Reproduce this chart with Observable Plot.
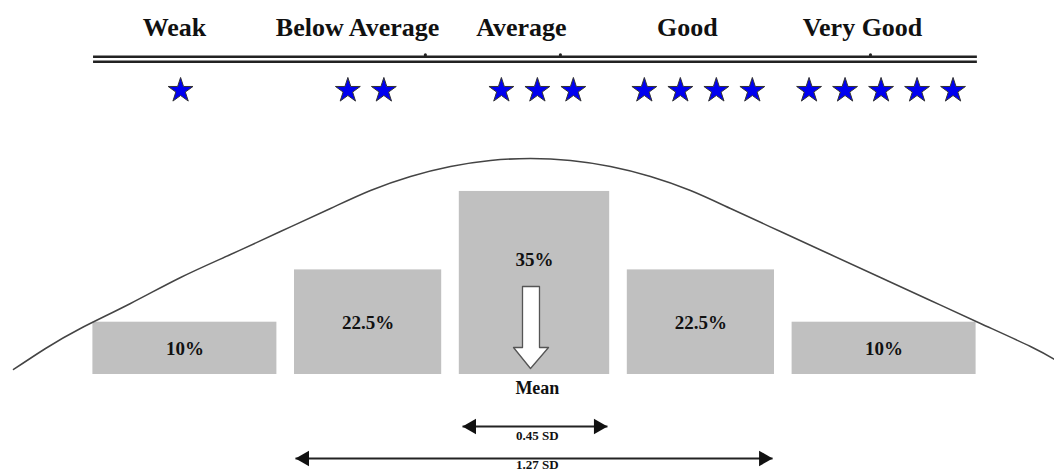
<!DOCTYPE html>
<html>
<head>
<meta charset="utf-8">
<script src="https://cdn.jsdelivr.net/npm/d3@7"></script>
<script src="https://cdn.jsdelivr.net/npm/@observablehq/plot@0.6"></script>
<style>
  html, body { margin: 0; padding: 0; background: #fff; }
  #chart svg { display: block; }
</style>
</head>
<body>
<div id="chart"></div>
<script>
// ---- Data (x in SD units from the mean, y in diagram percent units) ----
const categories   = ["Weak", "Below Average", "Average", "Good", "Very Good"];
const starCounts   = [1, 2, 3, 4, 5];
const labelX       = [-1.125, -0.553, -0.041, 0.478, 1.025];
const starGroupX   = [-1.106, -0.527, 0.009, 0.512, 1.083];

const percentages  = [10, 22.5, 35, 22.5, 10];
const barHeight    = [10, 20, 35, 20, 10];
const barX1        = [-1.38, -0.75, -0.235, 0.29, 0.805];
const barX2        = [-0.805, -0.29, 0.235, 0.75, 1.38];
const barLabelY    = [4.8, 9.8, 22, 9.8, 4.8];

const curveX = [-1.628, -1.528, -1.419, -1.2625, -1.106, -0.95, -0.794, -0.6375, -0.5125, -0.3875, -0.2625, -0.1375, -0.0125,
                0.1125, 0.2375, 0.3625, 0.4875, 0.6125, 0.76875, 0.925, 1.08125, 1.2375, 1.39375, 1.55, 1.625];
const curveY = [0.96, 4.97, 8.80, 13.58, 18.55, 22.94, 27.34, 31.74, 35.18, 37.86, 39.77, 40.92, 41.30,
                40.92, 39.77, 37.86, 35.18, 31.74, 27.34, 22.94, 18.55, 14.15, 9.75, 5.35, 2.87];

const meanArrowX = [-0.0375, 0.0156, 0.0156, 0.0438, -0.0125, -0.0656, -0.0375, -0.0375];
const meanArrowY = [16.83, 16.83, 5.16, 5.16, 1.15, 5.16, 5.16, 16.83];
const meanLabel  = "Mean";

const spanLabels = ["0.45 SD", "1.27 SD"];
const spanLeft   = [-0.225, -0.747];
const spanRight  = [0.228, 0.744];
const spanY      = [-9.94, -16.06];
const spanLabelY = [-11.8, -17.25];

const headerY = 66.4, ruleY = [60.76, 59.81], starY = 54.3;
const ruleExtent = [-1.378, 1.384];
const bumpX = [-0.341, 0.081, 1.05];

// ---- Derived tables ----
const bars = categories.map((c, i) => ({c, x1: barX1[i], x2: barX2[i], h: barHeight[i],
  label: percentages[i] + "%", ly: barLabelY[i]}));
const header = categories.map((c, i) => ({c, x: labelX[i]}));
const starStep = 0.1125;
const stars = categories.flatMap((c, i) => d3.range(starCounts[i]).map(k =>
  ({c, x: starGroupX[i] + (k - (starCounts[i] - 1) / 2) * starStep})));
const curve = curveX.map((x, i) => ({x, y: curveY[i]}));
const arrow = meanArrowX.map((x, i) => ({x, y: meanArrowY[i]}));
const spans = spanLabels.map((s, i) => ({s, x1: spanLeft[i], x2: spanRight[i], y: spanY[i], ly: spanLabelY[i]}));

const serif = "'Liberation Serif', 'Times New Roman', serif";

const chart = Plot.plot({
  width: 1054,
  height: 471,
  margin: 0,
  style: {background: "#fff", fontFamily: serif},
  x: {domain: [-534 / 320, 520 / 320], axis: null},
  y: {domain: [-97 / 5.23, 374 / 5.23], axis: null},
  marks: [
    // header labels
    Plot.text(header, {x: "x", y: headerY, text: "c", fontSize: 26, fontWeight: "bold",
      fill: "#111", fontFamily: serif}),
    // double rule
    Plot.ruleY([ruleY[0]], {x1: ruleExtent[0], x2: ruleExtent[1], stroke: "#222", strokeWidth: 2.5}),
    Plot.ruleY([ruleY[1]], {x1: ruleExtent[0], x2: ruleExtent[1], stroke: "#222", strokeWidth: 2.5}),
    Plot.dot(bumpX, {x: d => d, y: ruleY[0] + 0.35, r: 1.6, fill: "#222"}),
    // stars
    Plot.dot(stars, {x: "x", y: starY, symbol: "star", r: 7.8, fill: "#0000f0", stroke: "#333", strokeWidth: 1}),
    // bars
    Plot.rectY(bars, {x1: "x1", x2: "x2", y1: 0, y2: "h", fill: "#c0c0c0"}),
    Plot.text(bars, {x: d => (d.x1 + d.x2) / 2, y: "ly", text: "label", fontSize: 19, fontWeight: "bold",
      fill: "#111", fontFamily: serif}),
    // normal curve
    Plot.line(curve, {x: "x", y: "y", curve: "natural", stroke: "#444", strokeWidth: 1.5}),
    // mean arrow
    Plot.line(arrow, {x: "x", y: "y", fill: "#fff", stroke: "#555", strokeWidth: 1.3}),
    Plot.text([meanLabel], {x: 0.009, y: -2.7, text: d => d, fontSize: 18, fontWeight: "bold",
      fill: "#111", fontFamily: serif}),
    // SD span arrows
    Plot.link(spans, {x1: "x1", x2: "x2", y1: "y", y2: "y", stroke: "#222", strokeWidth: 2}),
    Plot.dot(spans, {x: "x1", y: "y", symbol: "triangle", rotate: -90, r: 5.8, dx: 9, fill: "#111"}),
    Plot.dot(spans, {x: "x2", y: "y", symbol: "triangle", rotate: 90, r: 5.8, dx: -9, fill: "#111"}),
    Plot.text(spans, {x: 0.009, y: "ly", text: "s", fontSize: 13, fontWeight: "bold",
      fill: "#111", fontFamily: serif})
  ]
});
document.getElementById("chart").appendChild(chart);
</script>
</body>
</html>
